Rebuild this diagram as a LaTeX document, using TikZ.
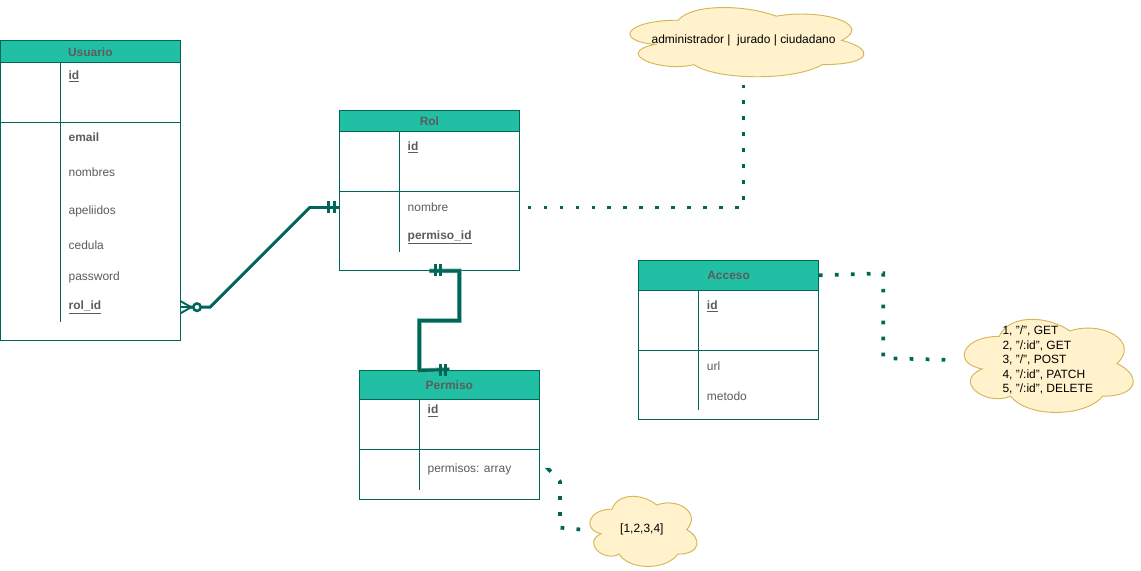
\documentclass[tikz,border=0pt]{standalone}
\usepackage{fontspec}
\setmainfont{Liberation Sans}
\usetikzlibrary{calc}

\definecolor{hdr}{HTML}{21C0A5}
\definecolor{edge}{HTML}{006658}
\definecolor{edgehalo}{HTML}{5FA396}
\definecolor{txt}{HTML}{5C5C5C}
\definecolor{notefill}{HTML}{FFF2CC}
\definecolor{notedraw}{HTML}{D6B656}

\tikzset{
  entity/.style={rectangle, draw=edge, line width=0.8pt, fill=white, inner sep=0pt},
  header/.style={rectangle, draw=edge, line width=0.8pt, fill=hdr, inner sep=0pt,
    minimum width=135pt, anchor=north, text=txt, font=\bfseries\fontsize{9}{11}\selectfont},
  field/.style={anchor=west, inner sep=0pt, text=txt, font=\fontsize{9}{11}\selectfont},
  key/.style={field, font=\bfseries\fontsize{9}{11}\selectfont},
  sep/.style={draw=edge, line width=0.8pt},
  rel/.style={draw=edge, line width=2.2pt},
  relhalo/.style={draw=edgehalo, line width=3.4pt},
  endmark/.style={draw=edge, line width=1.9pt},
  notebg/.style={fill=notefill, draw=notedraw, line width=0.7pt},
  note/.style={rectangle, draw=none, inner sep=0pt, text=black, font=\fontsize{9}{11}\selectfont},
  notelink/.style={draw=edge, line width=2.8pt, dash pattern=on 2.8pt off 9.2pt},
}

% cloud outline inside the box (x,y) -- (x+w,y+h)
\newcommand{\cloudbox}[4]{%
  \begin{scope}[shift={(#1,#2)}, xscale=#3, yscale=#4]
    \path[notebg] (0.25,0.25) .. controls (0.05,0.25) and (0,0.5) .. (0.16,0.55)
      .. controls (0,0.66) and (0.18,0.9) .. (0.31,0.8)
      .. controls (0.4,1) and (0.7,1) .. (0.8,0.8)
      .. controls (1,0.8) and (1,0.6) .. (0.875,0.5)
      .. controls (1,0.3) and (0.8,0.1) .. (0.625,0.2)
      .. controls (0.5,0.05) and (0.3,0.05) .. (0.25,0.25) -- cycle;
  \end{scope}}

\begin{document}
\begin{tikzpicture}[x=0.75pt, y=-0.75pt]
\fill[white] (0,0) rectangle (1141,571);

% ---------------- Usuario ----------------
\node[entity, minimum width=135pt, minimum height=225pt] (usuario) at (90,190) {};
\node[header, minimum height=16.5pt] (usuarioH) at (usuario.north) {Usuario};
\draw[sep] (0,122) -- (180,122);
\draw[sep] (60,62) -- (60,322);
\node[key] (u-id) at (68,76) {\underline{id}};
\node[key] (u-email) at (68,137) {email};
\node[field] (u-nombres) at (68,172) {nombres};
\node[field] (u-apellidos) at (68,211) {apeliidos};
\node[field] (u-cedula) at (68,245) {cedula};
\node[field] (u-password) at (68,277) {password};
\node[key] (u-rol) at (68,307) {\underline{rol\_id}};

% ---------------- Rol ----------------
\node[entity, minimum width=135pt, minimum height=120pt] (rol) at (430,190) {};
\node[header, minimum height=15.75pt] (rolH) at (rol.north) {Rol};
\draw[sep] (340,191) -- (520,191);
\draw[sep] (400,131) -- (400,252);
\node[key] (r-id) at (408,147) {\underline{id}};
\node[field] (r-nombre) at (408,207) {nombre};
\node[key] (r-permiso) at (408,237) {\underline{permiso\_id}};

% ---------------- Permiso ----------------
\node[entity, minimum width=135pt, minimum height=97.5pt] (permiso) at (450,435) {};
\node[header, minimum height=22.5pt] (permisoH) at (permiso.north) {Permiso};
\draw[sep] (360,450) -- (540,450);
\draw[sep] (420,400) -- (420,490);
\node[key] (p-id) at (428,411) {\underline{id}};
\node[field] (p-permisos) at (428,470) {permisos: array};

% ---------------- Acceso ----------------
\node[entity, minimum width=135pt, minimum height=120pt] (acceso) at (730,340) {};
\node[header, minimum height=22.5pt] (accesoH) at (acceso.north) {Acceso};
\draw[sep] (640,350) -- (820,350);
\draw[sep] (700,290) -- (700,410);
\node[key] (a-id) at (708,306) {\underline{id}};
\node[field] (a-url) at (708,366) {url};
\node[field] (a-metodo) at (708,396) {metodo};

% ---------------- notes ----------------
\cloudbox{614}{-1}{262}{81}
\node[note, minimum width=196.5pt, minimum height=60.75pt] (cloudA) at (745,39.5)
  {administrador |\ \ jurado | ciudadano};

\cloudbox{954}{309}{189}{109}
\node[note, minimum width=141.75pt, minimum height=81.75pt] (cloudB) at (1048.5,360) {};
\node[note, align=left, font=\fontsize{9}{10.9}\selectfont] (cloudBtext) at (1050,360)
  {1, "/", GET\\2, "/:id", GET\\3, "/", POST\\4, "/:id", PATCH\\5, "/:id", DELETE};

\cloudbox{583}{489}{120}{82}
\node[note, minimum width=90pt, minimum height=61.5pt] (cloudC) at (643,530) {[1,2,3,4]};

% ---------------- relations ----------------
% Usuario (zero or many) -- Rol (exactly one)
\draw[rel] (usuario.east |- u-rol) -- (210,307) -- (310,207) -- (rol.west |- r-nombre);
\fill[edge] (193,307) -- (180,299.5) -- (180,314.5) -- cycle;
\fill[white] (189,307) -- (181,302.5) -- (181,311.5) -- cycle;
\draw[endmark] (192,307) -- (180,307);
\draw[endmark, fill=white] (197,307) circle[radius=2.8pt];
\draw[endmark] (329,201) -- (329,213) (335,201) -- (335,213);

% Rol (exactly one) -- Permiso (exactly one)
\draw[relhalo] (rol.south) -- ++(30,0) -- ++(0,50) -- ++(-40,0) -- ++(0,50) -- (permisoH.north);
\draw[rel] (rol.south) -- ++(30,0) -- ++(0,50) -- ++(-40,0) -- ++(0,50) -- (permisoH.north);
\draw[endmark] (436,264) -- (436,276) (441,264) -- (441,276);
\draw[endmark] (441,364) -- (441,376) (446,364) -- (446,376);

% ---------------- note links ----------------
\draw[notelink, shorten <=6pt] (rol.east |- r-nombre) -| (cloudA.south);
\draw[notelink] (accesoH.east) -- (885,273) -- (885,358) -- (cloudB.west);
\draw[notelink, shorten <=8pt] (permiso.east |- p-permisos) -- (550,470) -- (561,482) -- (561,528) -- (cloudC.west);
\end{tikzpicture}
\end{document}
